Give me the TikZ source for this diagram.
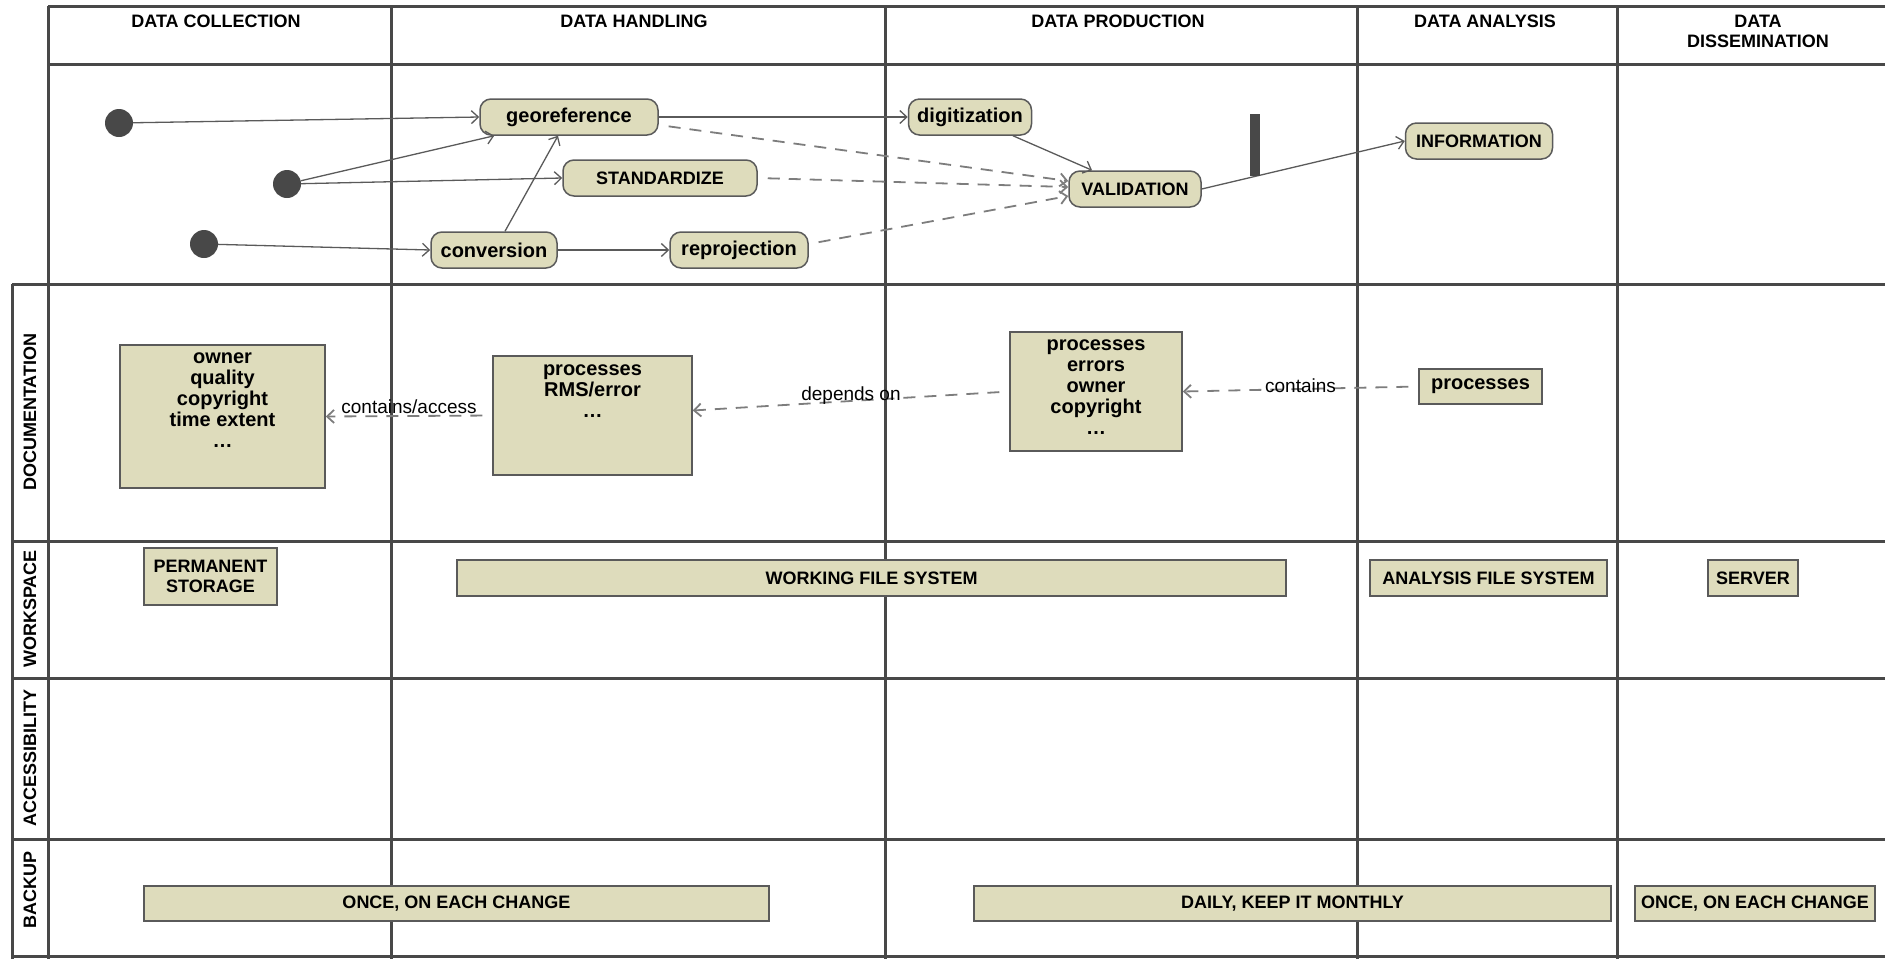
\documentclass[tikz,border=0pt]{standalone}
\usepackage{fontspec}
\setmainfont{Liberation Sans}
\usetikzlibrary{arrows.meta}

\definecolor{umlfill}{RGB}{222,220,188}
\definecolor{gridline}{RGB}{72,72,72}
\definecolor{edgeline}{RGB}{90,90,90}
\definecolor{depline}{RGB}{125,125,125}

\newcommand{\capsfont}{\fontsize{18}{20}\selectfont\bfseries}
\newcommand{\lowfont}{\fontsize{20}{21}\selectfont\bfseries}

\begin{document}
\begin{tikzpicture}[x=1pt, y=-1pt,
  >={Straight Barb[length=7pt,width=13pt]},
  lane/.style={line width=3pt, draw=gridline},
  colhead/.style={anchor=north, inner sep=0pt, align=center, font=\capsfont},
  rowname/.style={rotate=90, inner sep=0pt, font=\capsfont},
  startdot/.style={circle, fill=gridline, minimum size=28pt, inner sep=0pt},
  act/.style={draw=edgeline, line width=1.5pt, fill=umlfill, rounded corners=11pt,
    minimum height=36pt, inner sep=0pt, font=\lowfont},
  doc/.style={draw=edgeline, line width=1.5pt, fill=umlfill, inner sep=0pt,
    align=center, font=\capsfont},
  doctext/.style={anchor=north, align=center, inner sep=0pt, font=\lowfont},
  flow/.style={->, draw=edgeline, line width=1.3pt},
  dep/.style={->, draw=depline, line width=1.8pt, dash pattern=on 12pt off 9pt, shorten <=10pt},
  edgelabel/.style={inner sep=1pt, font=\fontsize{19}{20}\selectfont}
]
\useasboundingbox (0,0) rectangle (1885,959);

% swimlane grid
\draw[lane] (48,6) -- (1885,6);
\draw[lane] (48,64) -- (1885,64);
\foreach \y in {284,541,678,839,956}
  \draw[lane] (12,\y) -- (1885,\y);
\draw[lane] (12,284) -- (12,959);
\foreach \x in {48,391,885,1357,1617}
  \draw[lane] (\x,6) -- (\x,959);

\node[colhead] (hcol) at (216,15) {DATA COLLECTION};
\node[colhead] (hhand) at (634,15) {DATA HANDLING};
\node[colhead] (hprod) at (1118,15) {DATA PRODUCTION};
\node[colhead] (hana) at (1485,15) {DATA ANALYSIS};
\node[colhead] (hdis) at (1758,15) {DATA\\DISSEMINATION};

\node[rowname] (rdoc) at (30,412) {DOCUMENTATION};
\node[rowname] (rwork) at (30,609) {WORKSPACE};
\node[rowname] (racc) at (30,758) {ACCESSIBILITY};
\node[rowname] (rback) at (30,890) {BACKUP};

% activities
\node[startdot] (s1) at (119,123) {};
\node[startdot] (s2) at (287,184) {};
\node[startdot] (s3) at (204,244) {};
\node[act, minimum width=178pt] (georef) at (569,117) {georeference};
\node[act, minimum width=194pt, font=\capsfont] (stand) at (660,178) {STANDARDIZE};
\node[act, minimum width=126pt] (conv) at (494,250) {conversion};
\node[act, minimum width=138pt] (reproj) at (739,250) {reprojection};
\node[act, minimum width=123pt] (digit) at (970,117) {digitization};
\node[act, minimum width=132pt, font=\capsfont] (valid) at (1135,189) {VALIDATION};
\node[act, minimum width=147pt, font=\capsfont] (info) at (1479,141) {INFORMATION};

\draw[flow] (s1) -- (georef.west);
\draw[flow] (s2) -- ([xshift=15pt]georef.south west);
\draw[flow] (s2) -- (stand.west);
\draw[flow] (s3) -- (conv.west);
\draw[flow] ([xshift=11pt]conv.north) -- ([xshift=-11pt]georef.south);
\draw[flow] (conv) -- (reproj);
\draw[flow] (georef) -- (digit);
\draw[flow] (digit) -- (valid);
\draw[flow] (valid.east) -- (info.west);
\draw[dep] ([yshift=-8pt]georef.east) -- ([yshift=8pt]valid.west);
\draw[dep] (stand.east) -- ([yshift=2pt]valid.west);
\draw[dep] ([yshift=6pt]reproj.east) -- ([yshift=-7pt]valid.west);

\node[fill=gridline, minimum width=10pt, minimum height=62pt, inner sep=0pt] (join) at (1255,145) {};

% documentation
\node[doc, minimum width=205pt, minimum height=143pt] (own) at (222.5,416.5) {};
\node[doctext] (owntext) at ([yshift=-8pt]own.north) {owner\\quality\\copyright\\time extent\\\ldots};
\node[doc, minimum width=199pt, minimum height=119pt] (rms) at (592.5,415.5) {};
\node[doctext] (rmstext) at ([yshift=-9pt]rms.north) {processes\\RMS/error\\\ldots};
\node[doc, minimum width=172pt, minimum height=119pt] (errs) at (1096,391.5) {};
\node[doctext] (errstext) at ([yshift=-8pt]errs.north) {processes\\errors\\owner\\copyright\\\ldots};
\node[doc, minimum width=123pt, minimum height=35pt, font=\lowfont] (procs) at (1480.5,386.5) {processes};

\draw[dep] (rms.west) -- node[edgelabel, above] {contains/access} (own.east);
\draw[dep] (errs.west) -- node[edgelabel, yshift=5pt] {depends on} ([yshift=5pt]rms.east);
\draw[dep] (procs.west) -- node[edgelabel, yshift=3pt] {contains} (errs.east);

% workspace
\node[doc, minimum width=133pt, minimum height=57pt] (perm) at (210.5,576.5) {PERMANENT\\STORAGE};
\node[doc, minimum width=829pt, minimum height=36pt] (wfs) at (871.5,578) {WORKING FILE SYSTEM};
\node[doc, minimum width=237pt, minimum height=36pt] (afs) at (1488.5,578) {ANALYSIS FILE SYSTEM};
\node[doc, minimum width=90pt, minimum height=36pt] (srv) at (1753,578) {SERVER};

% backup
\node[doc, minimum width=625pt, minimum height=35pt] (bk1) at (456.5,903.5) {ONCE, ON EACH CHANGE};
\node[doc, minimum width=637pt, minimum height=35pt] (bk2) at (1292.5,903.5) {DAILY, KEEP IT MONTHLY};
\node[doc, minimum width=240pt, minimum height=35pt] (bk3) at (1755,903.5) {ONCE, ON EACH CHANGE};
\end{tikzpicture}
\end{document}
